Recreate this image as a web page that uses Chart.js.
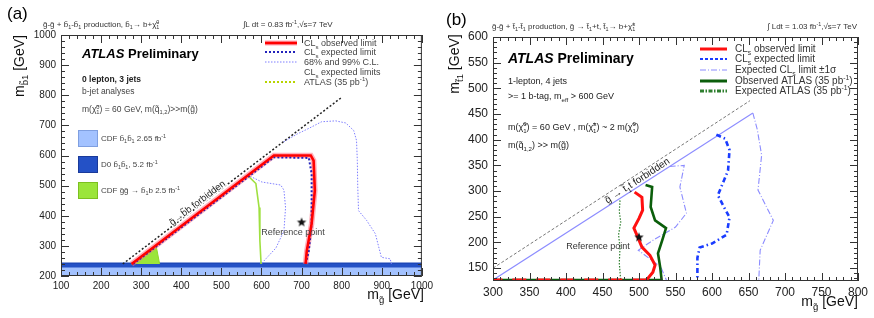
<!DOCTYPE html>
<html>
<head>
<meta charset="utf-8">
<script src="https://cdn.jsdelivr.net/npm/chart.js@4.4.0/dist/chart.umd.min.js"></script>
<style>
  html, body { margin: 0; padding: 0; background: #fff; }
  #wrap { position: relative; width: 874px; height: 318px; }
  canvas { position: absolute; top: 0; }
  #ca { left: 0; }
  #cb { left: 437px; }
</style>
</head>
<body>
<div id="wrap">
  <canvas id="ca" width="437" height="318"></canvas>
  <canvas id="cb" width="437" height="318"></canvas>
</div>
<script>
// ---- panel (a) : sbottom ----
const aXTicks = [100, 200, 300, 400, 500, 600, 700, 800, 900, 1000];
const aYTicks = [200, 300, 400, 500, 600, 700, 800, 900, 1000];
const aForbidden = [[254, 240], [800, 793]];
const aObserved = [[276, 240], [631, 600], [723, 600], [730, 583], [733, 483], [725, 373], [713, 283], [710, 240]];
const aExpected = [[280, 240], [631, 594], [718, 592], [725, 540], [725, 373], [718, 283], [710, 240]];
const aBandOuter = [[655, 645], [690, 672], [718, 690], [750, 712], [785, 715], [810, 708], [830, 683], [837, 650],
                    [839, 583], [840, 500], [842, 417], [862, 385], [884, 340], [899, 262], [921, 257], [924, 240]];
const aBandInner = [[572, 531], [601, 512], [648, 502], [656, 485], [660, 427], [656, 350], [636, 293], [606, 250], [601, 240]];
const aAtlas35 = [[566, 533], [586, 507], [594, 427], [596, 317], [599, 240]];
const aCdfGluino = [[276, 240], [338, 295], [346, 240]];
const aCdfSbottom = [[100, 228], [1000, 228]];
const aD0Sbottom = [[100, 242], [1000, 242]];
const aRefPoint = [[700, 378]];

// ---- panel (b) : stop ----
const bXTicks = [300, 350, 400, 450, 500, 550, 600, 650, 700, 750, 800];
const bYTicks = [150, 200, 250, 300, 350, 400, 450, 500, 550, 600];
const bForbidden = [[300, 150], [652, 476]];
const bBandOuter = [[300, 127], [656, 452], [662, 420], [668, 370], [663, 302], [684, 243], [666, 185], [664, 125]];
const bBandInner = [[542, 348], [562, 350], [556, 308], [565, 257], [550, 230], [520, 205], [499, 185], [513, 170], [530, 152], [538, 125]];
const bExpected = [[606, 410], [618, 402], [624, 380], [622, 340], [608, 292], [616, 270], [624, 249], [620, 215],
                   [600, 198], [583, 190], [580, 170], [580, 125]];
const bObserved = [[494, 298], [504, 288], [505, 263], [500, 247], [493, 228], [499, 208], [504, 191], [515, 175],
                   [522, 156], [519, 142], [512, 130], [510, 127], [300, 127]];
const bAtlasObs = [[509, 312], [518, 308], [516, 269], [522, 243], [537, 228], [532, 205], [526, 179], [529, 152], [531, 127], [300, 127]];
const bAtlasExp = [[474, 282], [473, 260], [475, 240], [472, 215], [474, 190], [473, 160], [475, 125]];
const bRefPoint = [[500, 210]];

const FONT = '"Liberation Sans", Arial, Helvetica, sans-serif';

function toXY(arr) { return arr.map(p => ({ x: p[0], y: p[1] })); }

function line(data, color, width, dash, extra) {
  return Object.assign({
    data: toXY(data), borderColor: color, backgroundColor: color, borderWidth: width,
    borderDash: dash || [], pointRadius: 0, fill: false, tension: 0, showLine: true
  }, extra || {});
}

function makeStar(r) {
  const c = document.createElement('canvas');
  const s = r * 2 + 2;
  c.width = c.height = s;
  const g = c.getContext('2d');
  g.fillStyle = '#111';
  g.beginPath();
  for (let i = 0; i < 10; i++) {
    const rr = i % 2 ? r * 0.42 : r;
    const ang = -Math.PI / 2 + i * Math.PI / 5;
    g.lineTo(s / 2 + rr * Math.cos(ang), s / 2 + rr * Math.sin(ang));
  }
  g.closePath();
  g.fill();
  return c;
}
const STAR = makeStar(5);

// small markup: _{sub} ^{sup}
function parseRich(s) {
  const out = [];
  let i = 0, buf = '';
  while (i < s.length) {
    const c = s[i];
    if ((c === '_' || c === '^') && s[i + 1] === '{') {
      if (buf) { out.push({ t: buf, k: 0 }); buf = ''; }
      const j = s.indexOf('}', i + 2);
      out.push({ t: s.slice(i + 2, j), k: c === '_' ? 1 : -1 });
      i = j + 1;
    } else { buf += c; i++; }
  }
  if (buf) out.push({ t: buf, k: 0 });
  return out;
}
function fontStr(o, size) { return `${o.style || 'normal'} ${o.weight || 'normal'} ${size}px ${FONT}`; }
function drawRich(ctx, s, x, y, o) {
  const items = [];
  let cx = 0, prev = null;
  for (const p of parseRich(s)) {
    const size = p.k ? o.size * 0.68 : o.size;
    ctx.font = fontStr(o, size);
    const w = ctx.measureText(p.t).width;
    let px = cx;
    if (prev && prev.k && p.k && prev.k !== p.k) { px = prev.x; cx = Math.max(prev.x + prev.w, px + w); }
    else cx = px + w;
    const it = { t: p.t, k: p.k, x: px, w, size };
    items.push(it);
    prev = it;
  }
  const x0 = o.align === 'right' ? x - cx : o.align === 'center' ? x - cx / 2 : x;
  ctx.textAlign = 'left';
  ctx.textBaseline = 'alphabetic';
  const passes = o.halo ? ['stroke', 'fill'] : ['fill'];
  for (const pass of passes) {
    for (const it of items) {
      ctx.font = fontStr(o, it.size);
      const dy = it.k === 1 ? o.size * 0.28 : it.k === -1 ? -o.size * 0.4 : 0;
      if (pass === 'stroke') {
        ctx.strokeStyle = '#fff';
        ctx.lineWidth = 2.5;
        ctx.lineJoin = 'round';
        ctx.strokeText(it.t, x0 + it.x, y + dy);
      } else {
        ctx.fillStyle = o.color || '#000';
        ctx.fillText(it.t, x0 + it.x, y + dy);
      }
    }
  }
}

function atlasLabel(ctx, x, y, size) {
  ctx.fillStyle = '#000';
  ctx.textAlign = 'left';
  ctx.font = `italic bold ${size}px ${FONT}`;
  ctx.fillText('ATLAS', x, y);
  const w = ctx.measureText('ATLAS ').width;
  ctx.font = `bold ${size}px ${FONT}`;
  ctx.fillText('Preliminary', x + w, y);
}

function legendLine(ctx, x1, x2, y, color, width, dash) {
  ctx.save();
  ctx.strokeStyle = color;
  ctx.lineWidth = width;
  ctx.setLineDash(dash || []);
  ctx.beginPath();
  ctx.moveTo(x1, y);
  ctx.lineTo(x2, y);
  ctx.stroke();
  ctx.restore();
}

// text along a forbidden line, angle from the scale pixels
function alongLine(chart, pts, fx, s, off, size, halo) {
  const { ctx, scales: { x, y } } = chart;
  const x1 = x.getPixelForValue(pts[0][0]), y1 = y.getPixelForValue(pts[0][1]);
  const x2 = x.getPixelForValue(pts[1][0]), y2 = y.getPixelForValue(pts[1][1]);
  const ang = Math.atan2(y2 - y1, x2 - x1);
  const cx = x1 + (x2 - x1) * fx, cy = y1 + (y2 - y1) * fx;
  ctx.save();
  ctx.translate(cx + Math.sin(ang) * off, cy - Math.cos(ang) * off);
  ctx.rotate(ang);
  drawRich(ctx, s, 0, 0, { size, color: '#222', align: 'center', halo });
  ctx.restore();
}

const framePlugin = {
  id: 'frame',
  afterDatasetsDraw(chart) {
    const { ctx, chartArea: a, scales: { x, y } } = chart;
    const o = chart.options.plugins.frame;
    ctx.save();
    ctx.strokeStyle = '#333';
    ctx.lineWidth = 1;
    ctx.strokeRect(a.left + 0.5, a.top + 0.5, a.right - a.left - 1, a.bottom - a.top - 1);
    ctx.beginPath();
    for (let v = x.min; v <= x.max + 1e-6; v += o.xMinor) {
      const major = Math.abs(v / o.xMajor - Math.round(v / o.xMajor)) < 1e-6;
      const len = major ? o.major : o.minor;
      const px = Math.round(x.getPixelForValue(v)) + 0.5;
      ctx.moveTo(px, a.bottom); ctx.lineTo(px, a.bottom - len);
      ctx.moveTo(px, a.top); ctx.lineTo(px, a.top + len);
    }
    for (let v = Math.ceil(y.min / o.yMinor) * o.yMinor; v <= y.max + 1e-6; v += o.yMinor) {
      const major = Math.abs(v / o.yMajor - Math.round(v / o.yMajor)) < 1e-6;
      const len = major ? o.major : o.minor;
      const py = Math.round(y.getPixelForValue(v)) + 0.5;
      ctx.moveTo(a.left, py); ctx.lineTo(a.left + len, py);
      ctx.moveTo(a.right, py); ctx.lineTo(a.right - len, py);
    }
    ctx.stroke();
    ctx.restore();
  }
};

function axes(xr, yr, xt, yt, yW, xH, size) {
  const tick = { font: { family: FONT, size }, color: '#222', maxRotation: 0, autoSkip: false, callback: v => String(v) };
  return {
    x: {
      type: 'linear', min: xr[0], max: xr[1],
      grid: { display: false, drawTicks: false }, border: { display: false },
      ticks: Object.assign({ padding: 4 }, tick),
      afterBuildTicks: s => { s.ticks = xt.map(v => ({ value: v })); },
      afterFit: s => { s.height = xH; }
    },
    y: {
      type: 'linear', min: yr[0], max: yr[1],
      grid: { display: false, drawTicks: false }, border: { display: false },
      ticks: Object.assign({ padding: 5 }, tick),
      afterBuildTicks: s => { s.ticks = yt.map(v => ({ value: v })); },
      afterFit: s => { s.width = yW; }
    }
  };
}

// ---------- chart (a) ----------
const textA = {
  id: 'textA',
  afterDraw(chart) {
    const ctx = chart.ctx;
    ctx.save();
    ctx.fillStyle = '#000';
    ctx.font = `17px ${FONT}`;
    ctx.fillText('(a)', 7, 19);
    drawRich(ctx, 'g̃-g̃ + b̃_{1}-b̃_{1} production, b̃_{1}→ b+χ̃^{0}_{1}', 43, 27, { size: 8, color: '#333' });
    drawRich(ctx, '∫L dt = 0.83 fb^{-1},√s=7 TeV', 243, 27, { size: 8, color: '#333' });

    ctx.save();
    ctx.translate(24, 66);
    ctx.rotate(-Math.PI / 2);
    drawRich(ctx, 'm_{b̃1} [GeV]', 0, 0, { size: 14, color: '#111', align: 'center' });
    ctx.restore();
    drawRich(ctx, 'm_{g̃} [GeV]', 424, 299, { size: 14, color: '#111', align: 'right' });

    atlasLabel(ctx, 82, 58, 13);
    drawRich(ctx, '0 lepton, 3 jets', 82, 82, { size: 8.5, color: '#222', weight: 'bold' });
    drawRich(ctx, 'b-jet analyses', 82, 94, { size: 8.5, color: '#444' });
    drawRich(ctx, 'm(χ̃^{0}_{1}) = 60 GeV, m(q̃_{1,2})>>m(g̃)', 82, 112, { size: 8.5, color: '#444' });

    const boxes = [
      [130, '#a3c2ff', '#7f9fe0', 'CDF b̃_{1}b̃_{1} 2.65 fb^{-1}'],
      [156, '#2451c6', '#1a3a9a', 'D0 b̃_{1}b̃_{1}, 5.2 fb^{-1}'],
      [182, '#9be53a', '#7cc020', 'CDF g̃g̃ → b̃_{1}b 2.5 fb^{-1}']
    ];
    for (const [by, fill, edge, label] of boxes) {
      ctx.fillStyle = fill;
      ctx.fillRect(78, by, 20, 17);
      ctx.strokeStyle = edge;
      ctx.strokeRect(78.5, by + 0.5, 19, 16);
      drawRich(ctx, label, 101, by + 11, { size: 8, color: '#444' });
    }

    legendLine(ctx, 265, 297, 43, 'rgba(255,110,130,0.6)', 5);
    legendLine(ctx, 265, 297, 43, '#ff0000', 2.6);
    legendLine(ctx, 265, 297, 52, '#2222bb', 2, [2, 2]);
    legendLine(ctx, 265, 297, 62, '#7f7fff', 1, [1.5, 1.5]);
    legendLine(ctx, 265, 297, 82, '#b8d400', 2, [2, 2]);
    const lg = { size: 9, color: '#444' };
    drawRich(ctx, 'CL_{s} observed limit', 304, 46, lg);
    drawRich(ctx, 'CL_{s} expected limit', 304, 55, lg);
    drawRich(ctx, '68% and 99% C.L.', 304, 65, lg);
    drawRich(ctx, 'CL_{s} expected limits', 304, 75, lg);
    drawRich(ctx, 'ATLAS (35 pb^{-1})', 304, 85, lg);

    drawRich(ctx, 'Reference point', 293, 235, { size: 9, color: '#444', align: 'center' });
    alongLine(chart, aForbidden, 0.35, 'g̃→b̃b forbidden', 0.5, 9.5, true);
    ctx.restore();
  }
};

new Chart(document.getElementById('ca'), {
  type: 'line',
  data: {
    datasets: [
      { data: toXY(aRefPoint), showLine: false, pointStyle: STAR, pointRadius: 5 },
      line(aObserved, '#ff0000', 2.6),
      line(aExpected, '#2222bb', 2, [2, 2]),
      line(aObserved, 'rgba(255,110,130,0.55)', 5.5),
      line(aAtlas35, '#9fe040', 1.6),
      line(aBandInner, '#7f7fff', 1, [1.5, 1.5]),
      line(aBandOuter, '#7f7fff', 1, [1.5, 1.5]),
      line(aForbidden, '#222', 1.5, [2, 2]),
      line(aCdfGluino, '#8fd926', 1, [], { backgroundColor: '#9be53a', fill: { value: 240 } }),
      line(aD0Sbottom, '#1d47b8', 1.5, [], { backgroundColor: '#2451c6', fill: { value: 228 } }),
      line(aCdfSbottom, '#a3c2ff', 1, [], { backgroundColor: '#a3c2ff', fill: 'start' })
    ]
  },
  options: {
    responsive: false,
    animation: false,
    layout: { padding: { top: 35, right: 13, left: 0, bottom: 0 } },
    plugins: {
      legend: { display: false },
      tooltip: { enabled: false },
      frame: { xMajor: 100, xMinor: 20, yMajor: 100, yMinor: 20, major: 8, minor: 4 }
    },
    scales: axes([100, 1000], [200, 1000], aXTicks, aYTicks, 61, 42, 10)
  },
  plugins: [framePlugin, textA]
});

// ---------- chart (b) ----------
const textB = {
  id: 'textB',
  afterDraw(chart) {
    const ctx = chart.ctx;
    ctx.save();
    ctx.fillStyle = '#000';
    ctx.font = `17px ${FONT}`;
    ctx.fillText('(b)', 9, 25);
    drawRich(ctx, 'g̃-g̃ + t̃_{1}-t̃_{1} production, g̃ → t̃_{1}+t, t̃_{1}→ b+χ̃^{±}_{1}', 55, 29, { size: 8, color: '#333' });
    drawRich(ctx, '∫ Ldt = 1.03 fb^{-1},√s=7 TeV', 420, 29, { size: 8, color: '#333', align: 'right' });

    ctx.save();
    ctx.translate(22, 64);
    ctx.rotate(-Math.PI / 2);
    drawRich(ctx, 'm_{t̃1} [GeV]', 0, 0, { size: 14, color: '#111', align: 'center' });
    ctx.restore();
    drawRich(ctx, 'm_{g̃} [GeV]', 421, 306, { size: 14, color: '#111', align: 'right' });

    atlasLabel(ctx, 71, 63, 14);
    const tx = { size: 9, color: '#222' };
    drawRich(ctx, '1-lepton, 4 jets', 71, 84, tx);
    drawRich(ctx, '>= 1 b-tag, m_{eff} > 600 GeV', 71, 99, tx);
    drawRich(ctx, 'm(χ̃^{0}_{1}) = 60 GeV , m(χ̃^{±}_{1}) ~ 2 m(χ̃^{0}_{1})', 71, 130, tx);
    drawRich(ctx, 'm(q̃_{1,2}) >> m(g̃)', 71, 148, tx);

    legendLine(ctx, 263, 290, 49, '#ff1010', 3);
    legendLine(ctx, 263, 290, 59, '#1a3cff', 2, [3, 2]);
    legendLine(ctx, 263, 290, 70, '#8c8cff', 1.2, [6, 2, 1, 2]);
    legendLine(ctx, 263, 290, 81, '#0b5e0b', 3);
    legendLine(ctx, 263, 290, 91, '#2f7f2f', 3, [4, 1.5, 1.5, 1.5]);
    const lg = { size: 10, color: '#333' };
    drawRich(ctx, 'CL_{s} observed limit', 298, 52, lg);
    drawRich(ctx, 'CL_{s} expected limit', 298, 62, lg);
    drawRich(ctx, 'Expected CL_{s} limit ±1σ', 298, 73, lg);
    drawRich(ctx, 'Observed ATLAS (35 pb^{-1})', 298, 84, lg);
    drawRich(ctx, 'Expected ATLAS (35 pb^{-1})', 298, 94, lg);

    drawRich(ctx, 'Reference point', 161, 249, { size: 9, color: '#333', align: 'center' });
    alongLine(chart, bForbidden, 0.55, 'g̃ → t̃_{1}t forbidden', -8.5, 10, false);
    ctx.restore();
  }
};

new Chart(document.getElementById('cb'), {
  type: 'line',
  data: {
    datasets: [
      { data: toXY(bRefPoint), showLine: false, pointStyle: STAR, pointRadius: 5 },
      line(bObserved, '#ff1010', 3, [], {
        segment: { borderDash: c => c.p1DataIndex === bObserved.length - 1 ? [14, 10] : undefined }
      }),
      line(bAtlasObs, '#0b5e0b', 2.6),
      line(bAtlasExp, '#2f7f2f', 1.2, [1.5, 1.5]),
      line(bExpected, '#1a3cff', 2.6, [5, 3, 1.5, 3]),
      line(bBandInner, '#8c8cff', 1.1, [6, 2, 1, 2]),
      line(bBandOuter, '#8c8cff', 1.1, [6, 2, 1, 2], {
        segment: { borderDash: c => c.p0DataIndex === 0 ? [] : undefined }
      }),
      line(bForbidden, '#777', 1, [3, 2])
    ]
  },
  options: {
    responsive: false,
    animation: false,
    layout: { padding: { top: 37, right: 16, left: 0, bottom: 0 } },
    plugins: {
      legend: { display: false },
      tooltip: { enabled: false },
      frame: { xMajor: 50, xMinor: 10, yMajor: 50, yMinor: 10, major: 8, minor: 4 }
    },
    scales: axes([300, 800], [125, 600], bXTicks, bYTicks, 56, 37, 12)
  },
  plugins: [framePlugin, textB]
});
</script>
</body>
</html>
